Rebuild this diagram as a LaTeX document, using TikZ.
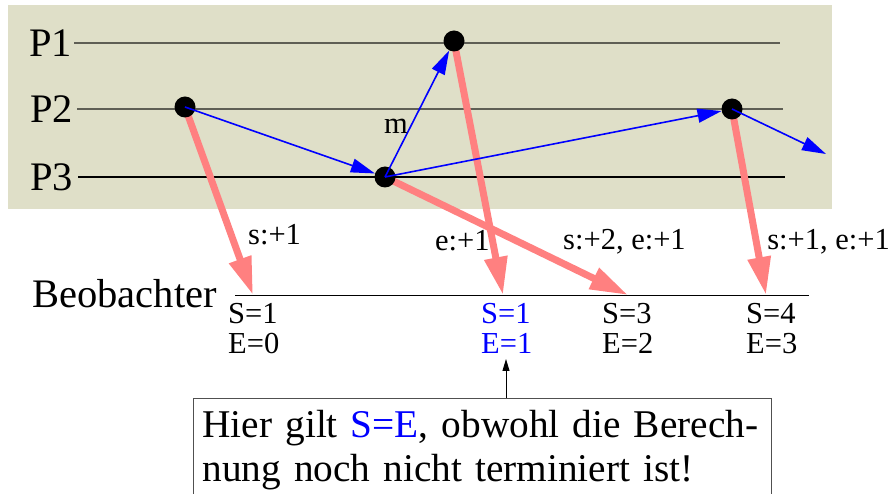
\documentclass[tikz,border=0pt]{standalone}
\usepackage{fontspec}
\setmainfont{Liberation Serif}
\usepackage{xcolor}
\usetikzlibrary{arrows.meta, positioning, calc, backgrounds}
\definecolor{bgkhaki}{RGB}{223,223,200}
\definecolor{linegrey}{RGB}{95,95,85}
\definecolor{snapred}{RGB}{255,128,128}
\definecolor{notegrey}{RGB}{80,80,80}
\tikzset{
  timeline/.style = {draw=linegrey, line width=1.3pt},
  obsline/.style  = {draw=black, line width=1pt},
  event/.style    = {circle, fill=black, minimum size=21pt, inner sep=0pt},
  msg/.style      = {-{Triangle[length=24pt,width=14pt]}, draw=blue, line width=1.6pt},
  snap/.style     = {-{Triangle[length=38pt,width=22pt]}, draw=snapred, line width=7pt},
  pointer/.style  = {-{Triangle[length=12pt,width=7pt]}, draw=black, line width=0.9pt},
  biglab/.style   = {inner sep=0pt, font=\fontsize{40.5}{46}\selectfont},
  smalllab/.style = {inner sep=0pt, font=\fontsize{30.5}{30}\selectfont},
  vals/.style     = {smalllab, align=left, anchor=north west},
  note/.style     = {draw=notegrey, line width=1pt, align=left, anchor=north west,
                     text width=560pt, inner xsep=9pt, inner ysep=12pt,
                     font=\fontsize{39.3}{44}\selectfont},
}

\begin{document}
\begin{tikzpicture}[x=1pt, y=-1pt]
\useasboundingbox (0,0) rectangle (892,494);

% ---------- Process labels ----------
\node[biglab, anchor=east] (p1) at (72,43) {P1};
\node[biglab, anchor=east] (p2) at (73,109) {P2};
\node[biglab, anchor=east] (p3) at (73,177) {P3};
\coordinate (p1end) at (780,43);
\coordinate (p2end) at (783,109);
\coordinate (p3end) at (785,177);

% ---------- Observer ----------
\node[biglab, anchor=east] (obs) at (217,294) {Beobachter};
\coordinate (obsend) at (809,296);
\coordinate (o1) at (253,295);
\coordinate (o2) at (503,295);
\coordinate (o3) at (628,295);
\coordinate (o4) at (766,295);

% ---------- Events ----------
\node[event] (e21) at (185,107) {};
\node[event] (e31) at (385,177) {};
\node[event] (e11) at (454,41) {};
\node[event] (e22) at (732,109) {};
\coordinate (msgout) at (826,154);

% ---------- Background, lines and snapshot edges (red) ----------
\begin{scope}[on background layer]
  \fill[bgkhaki] (8,5) rectangle (832,209);
  \draw[timeline] (p1.east) ++(2,0) -- (p1end);
  \draw[timeline] (p2.east) ++(4,0) -- (p2end);
  \draw[timeline, draw=black] (p3.east) ++(5,0) -- (p3end);
  \draw[obsline] (obs.east) ++(18,2) -- (obsend);
  \draw[snap] (e21.center) -- (o1);
  \draw[snap] (e11.center) -- (o2);
  \draw[snap] (e31.center) -- (o3);
  \draw[snap] (e22.center) -- (o4);
\end{scope}

% ---------- Messages (blue) ----------
\draw[msg] (e21.center) -- (e31);
\draw[msg] (e31.center) -- (e11);
\draw[msg] (e31.center) -- (e22);
\draw[msg] (e22.center) -- (msgout);
\node[smalllab, anchor=base] (mlab) at (396,134) {m};

% ---------- Counter labels ----------
\node[smalllab, anchor=base west] (c1) at (248,245) {s:+1};
\node[smalllab, anchor=base west] (c2) at (435,251) {e:+1};
\node[smalllab, anchor=base west] (c3) at (563,250) {s:+2, e:+1};
\node[smalllab, anchor=base east] (c4) at (890,250) {s:+1, e:+1};

\node[vals] (v1) at (228,303) {S=1\\E=0};
\node[vals, text=blue] (v2) at (481,303) {S=1\\E=1};
\node[vals] (v3) at (602,303) {S=3\\E=2};
\node[vals] (v4) at (746,303) {S=4\\E=3};

% ---------- Note ----------
\node[note] (hint) at (193,398) {Hier gilt \textcolor{blue}{S=E}, obwohl die Berech-\\nung noch nicht terminiert ist!};
\coordinate (hinttip) at (506,359);
\draw[pointer] (hint.north -| hinttip) -- (hinttip);

\end{tikzpicture}
\end{document}
